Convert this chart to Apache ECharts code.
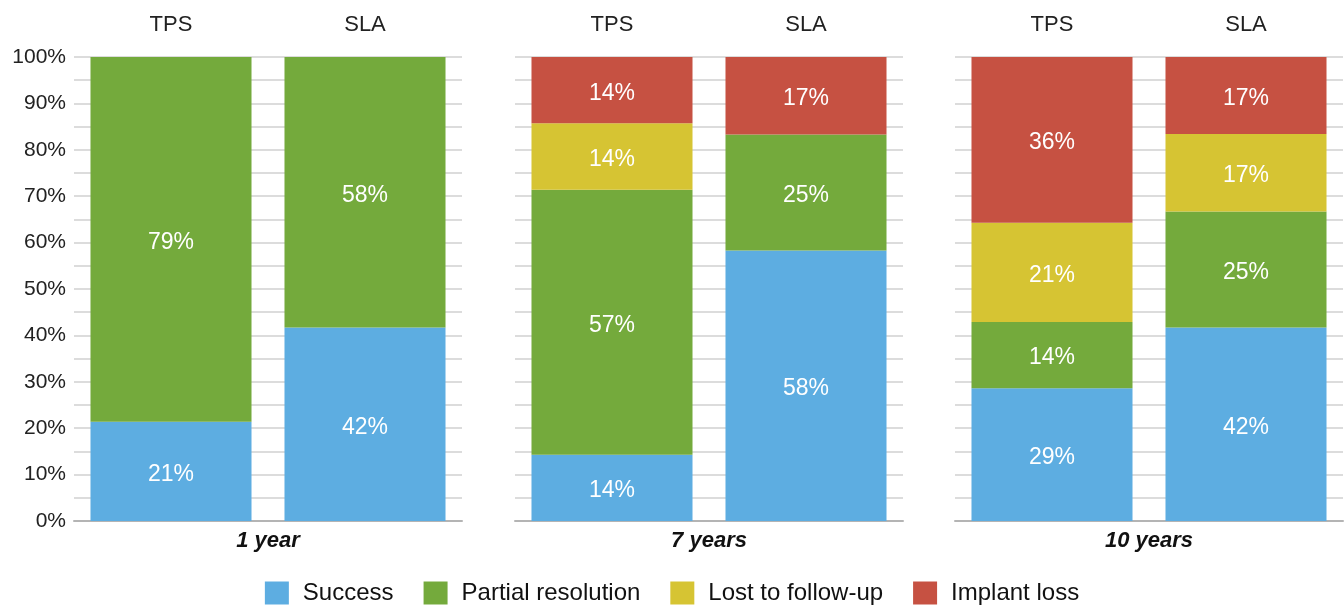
<!DOCTYPE html>
<html>
<head>
<meta charset="utf-8">
<script src="https://cdn.jsdelivr.net/npm/echarts@6/dist/echarts.min.js"></script>
<style>
  html, body { margin: 0; padding: 0; background: #fff; }
  #chart { width: 1344px; height: 607px; }
</style>
</head>
<body>
<div id="chart"></div>
<script>
// Follow-up periods, one panel each
const periods = ['1 year', '7 years', '10 years'];
// Treatment groups inside each panel
const groups = ['TPS', 'SLA'];
// Outcome shares (%) per period, as [TPS, SLA]
const success = [[21.4, 41.7], [14.3, 58.3], [28.6, 41.7]];
const partialResolution = [[78.6, 58.3], [57.1, 25.0], [14.3, 25.0]];
const lostToFollowUp = [[0, 0], [14.3, 0], [21.4, 16.7]];
const implantLoss = [[0, 0], [14.3, 16.7], [35.7, 16.6]];
// Y axis tick labels
const yTicks = ['0%', '10%', '20%', '30%', '40%', '50%', '60%', '70%', '80%', '90%', '100%'];

const outcomes = [
  { name: 'Success', data: success, color: '#5dade1' },
  { name: 'Partial resolution', data: partialResolution, color: '#74aa3c' },
  { name: 'Lost to follow-up', data: lostToFollowUp, color: '#d6c433' },
  { name: 'Implant loss', data: implantLoss, color: '#c65142' }
];

const FONT = '"Liberation Sans", Arial, Helvetica, sans-serif';
const panelLeft = [74, 515, 955];
const panelWidth = 388;

const grids = [], xAxes = [], yAxes = [], series = [];
periods.forEach((period, p) => {
  grids.push({ left: panelLeft[p], width: panelWidth, top: 57, bottom: 86 });
  // bottom axis: baseline and period name
  xAxes.push({
    type: 'category', gridIndex: p, data: groups, position: 'bottom',
    axisLine: { show: true, lineStyle: { color: '#b4b4b4', width: 2 } },
    axisTick: { show: false }, axisLabel: { show: false },
    name: period, nameLocation: 'middle', nameGap: 9,
    nameTextStyle: { fontFamily: FONT, fontSize: 22, fontWeight: 'bold', fontStyle: 'italic', color: '#111' }
  });
  // top axis: group names
  xAxes.push({
    type: 'category', gridIndex: p, data: groups, position: 'top',
    axisLine: { show: false }, axisTick: { show: false },
    axisLabel: { show: true, margin: 21, fontFamily: FONT, fontSize: 22, color: '#222' }
  });
  yAxes.push({
    type: 'value', gridIndex: p, min: 0, max: 100, interval: 10,
    axisLine: { show: false }, axisTick: { show: false },
    axisLabel: {
      show: p === 0, margin: 8, fontFamily: FONT, fontSize: 21, color: '#222',
      formatter: v => yTicks[Math.round(v / 10)]
    },
    splitLine: { show: true, lineStyle: { color: '#dcdcdc', width: 2 } },
    minorTick: { show: false, splitNumber: 2 },
    minorSplitLine: { show: true, lineStyle: { color: '#dcdcdc', width: 2 } }
  });
  outcomes.forEach(o => {
    series.push({
      name: o.name, type: 'bar', stack: 'panel' + p,
      xAxisIndex: p * 2, yAxisIndex: p,
      data: o.data[p], barWidth: '83%',
      itemStyle: { color: o.color },
      label: {
        show: true, position: 'inside', color: '#fff',
        fontFamily: FONT, fontSize: 23, offset: [0, 3],
        formatter: d => d.value > 0 ? Math.round(d.value) + '%' : ''
      },
      emphasis: { disabled: true }
    });
  });
});

const chart = echarts.init(document.getElementById('chart'));
chart.setOption({
  animation: false,
  grid: grids,
  xAxis: xAxes,
  yAxis: yAxes,
  legend: {
    data: outcomes.map(o => o.name),
    bottom: -3, left: 'center',
    icon: 'rect', itemWidth: 24, itemHeight: 23, itemGap: 30,
    textStyle: { fontFamily: FONT, fontSize: 24, color: '#111', padding: [0, 0, 0, 9] }
  },
  series: series
});
</script>
</body>
</html>
